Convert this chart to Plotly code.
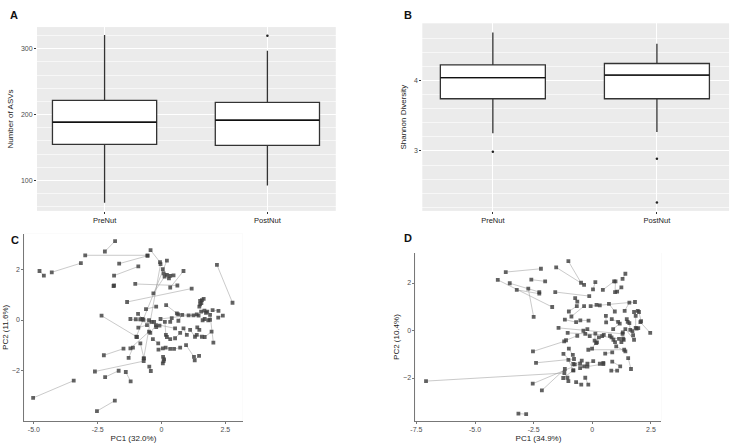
import plotly.graph_objects as go

# --- data -------------------------------------------------------------
CATS = ["PreNut", "PostNut"]

# panel A: number of ASVs (box statistics)
asv_q1 = [154.5, 153.0]
asv_med = [188.3, 191.4]
asv_q3 = [221.7, 218.6]
asv_lo = [66.0, 92.0]
asv_hi = [321.0, 297.0]
asv_out_x = ["PostNut"]
asv_out_y = [320.0]

# panel B: Shannon diversity
sh_q1 = [3.74, 3.74]
sh_med = [4.04, 4.075]
sh_q3 = [4.22, 4.24]
sh_lo = [3.25, 3.27]
sh_hi = [4.68, 4.52]
sh_out_x = ["PreNut", "PostNut", "PostNut"]
sh_out_y = [2.99, 2.89, 2.27]

# panel C: PCA, one pair of samples per subject (PreNut -> PostNut)
c_pre_x = [-1.82, -2.99, -3.16, -4.78, -0.43, -1.66, -1.86, -1.88, -1.03, -1.35,
           2.17, 0.86, 0.21, -0.04, 0.05, 0.08, 0.21, 0.12, 1.51, 1.65,
           1.48, -0.61, 0.18, 0.65, -0.92, -1.22, -1.01, -0.71, -0.39, -0.04,
           0.34, 0.66, 1.06, 1.55, 1.74, 1.61, 1.83, 2.00, 2.40, -0.91,
           -0.44, -0.21, 0.13, 0.21, 0.53, 0.86, 1.12, 1.38, 1.40, 1.69,
           2.03, -0.34, -0.12, 0.16, 0.49, 0.96, 1.30, 0.06, 0.05, -0.48,
           -2.61, -2.26, -0.83, -1.29, -2.21, -1.40, -3.44, -1.83, -2.35, -1.22]
c_pre_y = [3.11, 2.55, 2.24, 1.93, 2.75, 2.22, 1.75, 1.34, 1.42, 0.71,
           2.17, 1.93, 2.34, 2.20, 2.00, 1.84, 1.78, 1.71, 0.75, 0.83,
           0.53, 0.43, 0.59, 0.22, 0.24, 0.04, 0.03, 0.01, -0.07, 0.04,
           -0.07, -0.03, 0.18, 0.33, 0.28, -0.01, -0.01, 0.39, 0.17, -0.30,
           -0.51, -0.28, -0.07, -0.67, -0.72, -0.33, -0.39, -0.59, -0.29, -0.67,
           -0.89, -0.75, -1.17, -1.09, -1.14, -0.99, -1.59, -1.45, -1.71, -1.84,
           -2.03, -1.39, -0.92, -1.49, -2.25, -2.05, -2.39, -3.18, 0.17, -1.12]
c_post_x = [-2.22, -0.55, -4.30, -4.61, -0.06, -0.55, -0.91, -1.86, 0.62, 1.18,
            2.78, 0.34, -0.99, -0.70, 0.29, 0.47, 0.34, -0.32, 1.58, 1.56,
            1.51, -0.21, 0.60, 1.45, -0.75, 0.53, -0.83, -0.49, -0.29, 1.38,
            0.40, 0.81, 1.25, 1.68, 1.79, 1.69, 1.90, 2.23, 2.22, -0.57,
            -0.22, -0.08, 0.17, 0.34, 0.73, 0.99, 1.31, 1.58, 1.48, 1.96,
            1.90, -0.13, 0.05, 0.34, 0.73, 1.27, 1.47, 0.10, 0.08, -0.42,
            -0.70, -1.49, -0.69, -1.12, -1.68, -1.21, -5.03, -2.53, -0.96, -0.49]
c_post_y = [2.70, 2.55, 1.88, 1.75, 2.28, 2.53, 2.11, 1.36, 1.36, 1.24,
            0.68, 1.28, -0.66, -1.51, 1.64, 1.76, 1.74, 1.05, 0.78, 0.67,
            0.62, 0.53, 0.26, 0.17, 0.04, -0.33, 0.03, -0.01, -0.07, 0.22,
            0.07, 0.20, 0.18, 0.37, 0.33, 0.04, 0.01, 0.36, 0.09, -0.20,
            -0.20, -0.22, -0.59, -0.75, -0.51, -0.59, -0.66, -0.66, -0.39, -0.46,
            0.20, -0.92, -1.12, -1.14, -1.09, -1.45, -1.41, -1.55, -1.62, -2.01,
            -1.62, -1.13, -1.51, -1.09, -2.00, -2.42, -3.07, -3.59, -0.67, -0.46]

# panel D
d_pre_x = [-1.02, -1.54, -3.69, -4.03, -2.73, -3.52, -3.22, -2.60, -1.58, 0.13,
           0.45, 0.99, 1.29, 1.24, -0.73, -0.66, -0.89, -0.07, 0.18, 0.71,
           1.58, 1.78, 1.99, 1.85, 1.89, -1.17, -0.51, -0.38, -0.30, 0.13,
           0.16, -1.05, -1.44, 0.58, 0.83, 0.89, 1.47, 1.58, 1.71, 1.78,
           1.30, 1.34, 0.75, 0.90, 1.14, 0.28, -0.17, 2.47, 1.41, 0.85,
           0.85, 1.06, 1.65, 0.47, 0.04, -0.35, -0.45, -1.02, -1.06, -1.24,
           -0.69, -0.30, -1.00, -1.23, -1.12, -2.53, -2.40, -2.54, -2.15, -7.09,
           -3.15, -0.21]
d_pre_y = [2.92, 2.66, 2.46, 2.13, 1.76, 1.99, 1.71, 2.14, 1.62, 2.04,
           1.71, 2.07, 2.17, 1.82, 1.36, 1.03, 0.59, 1.03, 1.08, 1.12,
           1.17, 0.78, 0.78, 0.62, 0.08, 0.46, 0.43, -0.01, -0.14, -0.13,
           -0.53, -0.10, 0.11, 0.62, 0.48, 0.06, 0.48, 0.31, -0.03, -0.39,
           -0.08, -0.39, -0.22, -0.39, -0.35, -0.29, -0.81, -0.10, -0.88, -0.92,
           -1.31, -1.69, -1.62, -1.36, -1.29, -1.51, -1.27, -1.24, -1.99, -2.00,
           -2.17, -1.99, -0.76, -0.98, -0.41, -0.88, -1.36, -2.24, -2.52, -2.13,
           -3.50, -1.52]
d_post_x = [-0.48, -0.35, -2.19, -1.71, -2.50, -2.26, -2.26, -2.01, -0.13, 0.03,
            0.93, 0.97, 1.41, 1.06, -0.64, -1.00, -0.35, 1.82, 0.32, 0.96,
            1.38, 1.94, 2.08, 1.85, 1.96, -0.69, -0.16, -0.21, -0.11, 0.10,
            0.20, 0.49, 1.29, 0.59, 1.10, 1.17, 1.51, 1.62, 1.74, 1.41,
            1.31, 1.24, 0.82, 0.97, 0.42, -0.01, 1.36, 2.05, 1.02, 0.55,
            1.19, 0.81, 1.53, 0.32, -0.21, -0.52, -0.75, -0.81, -1.02, -0.81,
            -0.47, -0.17, -0.83, -0.81, -0.64, -1.20, -0.78, -0.52, -1.17, -1.19,
            -2.82, 0.47]
d_post_y = [2.01, 1.92, 2.60, 0.99, 0.57, 1.62, 1.55, 2.07, 1.45, 1.73,
            2.07, 1.62, 2.39, 1.64, 1.22, 0.80, 1.03, 1.20, 1.06, 0.80,
            0.83, 0.83, 0.39, 0.11, 0.10, 0.35, 0.42, 0.06, -0.24, -0.43,
            -0.50, -0.18, -0.14, 0.34, 0.36, 0.29, 0.36, 0.03, -0.20, 0.06,
            -0.34, -0.49, -0.29, -0.49, -0.24, -0.76, -0.81, 0.35, -0.67, -0.97,
            -1.51, -1.69, -1.16, -1.40, -1.40, -1.58, -1.43, -1.68, -2.13, -1.68,
            -2.28, -2.28, -1.03, -1.41, -0.22, -0.46, -1.20, -1.40, -1.62, -1.79,
            -3.52, -1.41]

FONT = "Liberation Sans, Arial, sans-serif"
TICK_COLOR = "#4D4D4D"
MARK = "rgba(60,60,60,0.8)"
SEG = "rgba(150,150,150,0.5)"


def pair_lines(x0, y0, x1, y1):
    xs, ys = [], []
    for a, b, c, d in zip(x0, y0, x1, y1):
        xs += [a, c, None]
        ys += [b, d, None]
    return xs, ys


fig = go.Figure()

# --- panels A and B: boxplots ----------------------------------------
box_sets = [
    ("x", "y", asv_q1, asv_med, asv_q3, asv_lo, asv_hi, asv_out_x, asv_out_y),
    ("x2", "y2", sh_q1, sh_med, sh_q3, sh_lo, sh_hi, sh_out_x, sh_out_y),
]
for xa, ya, q1, med, q3, lo, hi, ox, oy in box_sets:
    fig.add_trace(go.Box(
        x=CATS, q1=q1, median=med, q3=q3, lowerfence=lo, upperfence=hi,
        xaxis=xa, yaxis=ya, width=0.64, whiskerwidth=0,
        fillcolor="white", line=dict(color="#333333", width=1.3),
        boxpoints=False, showlegend=False))
    # thicker median bar, as in ggplot
    fig.add_trace(go.Box(
        x=CATS, q1=med, median=med, q3=med, lowerfence=med, upperfence=med,
        xaxis=xa, yaxis=ya, width=0.64, whiskerwidth=0,
        fillcolor="rgba(0,0,0,0)", line=dict(color="#111111", width=1.4),
        boxpoints=False, showlegend=False))
    fig.add_trace(go.Scatter(
        x=ox, y=oy, xaxis=xa, yaxis=ya, mode="markers",
        marker=dict(color="#222222", size=2.5), showlegend=False))

# --- panels C and D: PCA with paired samples --------------------------
pca_sets = [
    ("x3", "y3", c_pre_x, c_pre_y, c_post_x, c_post_y),
    ("x4", "y4", d_pre_x, d_pre_y, d_post_x, d_post_y),
]
for xa, ya, x0, y0, x1, y1 in pca_sets:
    lx, ly = pair_lines(x0, y0, x1, y1)
    fig.add_trace(go.Scatter(
        x=lx, y=ly, xaxis=xa, yaxis=ya, mode="lines",
        line=dict(color=SEG, width=1), showlegend=False, hoverinfo="skip"))
    fig.add_trace(go.Scatter(
        x=x0 + x1, y=y0 + y1, xaxis=xa, yaxis=ya, mode="markers",
        marker=dict(color=MARK, size=3.8, symbol="square"), showlegend=False))

tick_font = dict(family=FONT, size=7, color=TICK_COLOR)
title_font = dict(family=FONT, size=8, color="#222222")
cat_font = dict(family=FONT, size=7.5, color="#222222")

gg_x = dict(type="category", showgrid=True, gridcolor="white", gridwidth=1,
            ticks="outside", ticklen=2, tickcolor="#333333", tickfont=cat_font,
            showline=False, zeroline=False)
gg_y = dict(showgrid=True, gridcolor="white", gridwidth=1,
            minor=dict(showgrid=True, gridcolor="rgba(255,255,255,0.6)", gridwidth=0.5),
            ticks="outside", ticklen=2, tickcolor="#333333", tickfont=tick_font,
            showline=False, zeroline=False, title_font=title_font, title_standoff=6)
cl_ax = dict(showgrid=False, zeroline=False, showline=True, linecolor="#777777",
             linewidth=1, ticks="outside", ticklen=2, tickcolor="#777777",
             tickfont=tick_font, title_font=title_font, title_standoff=2)

fig.update_layout(
    width=732, height=444,
    margin=dict(l=0, r=0, t=0, b=0),
    paper_bgcolor="white",
    plot_bgcolor="#EBEBEB",
    font=dict(family=FONT),
    xaxis=dict(gg_x, domain=[0.044, 0.455], range=[-0.415, 1.42], anchor="y"),
    yaxis=dict(gg_y, domain=[0.525, 0.939], range=[53.5, 333], tickvals=[100, 200, 300],
               title_text="Number of ASVs", anchor="x"),
    xaxis2=dict(gg_x, domain=[0.574, 0.996], range=[-0.43, 1.44], anchor="y2"),
    yaxis2=dict(gg_y, domain=[0.525, 0.9475], range=[2.15, 4.81], tickvals=[3, 4],
                title_text="Shannon Diversity", anchor="x2"),
    xaxis3=dict(cl_ax, domain=[0.0264, 0.327], range=[-5.38, 3.18],
                tickvals=[-5, -2.5, 0, 2.5], ticktext=["-5.0", "-2.5", "0", "2.5"],
                title_text="PC1 (32.0%)", anchor="y3"),
    yaxis3=dict(cl_ax, domain=[0.0518, 0.4736], range=[-3.98, 3.4],
                tickvals=[-2, 0, 2], title_text="PC2 (11.6%)", anchor="x3"),
    xaxis4=dict(cl_ax, domain=[0.5646, 0.903], range=[-7.54, 2.95],
                tickvals=[-7.5, -5, -2.5, 0, 2.5],
                ticktext=["-7.5", "-5.0", "-2.5", "0", "2.5"],
                title_text="PC1 (34.9%)", anchor="y4"),
    yaxis4=dict(cl_ax, domain=[0.0518, 0.430], range=[-3.81, 3.26],
                tickvals=[-2, 0, 2], title_text="PC2 (10.4%)", anchor="x4"),
)

# white background for the PCA panels
for xr, yr in [("x3", "y3"), ("x4", "y4")]:
    fig.add_shape(type="rect", xref=f"{xr} domain", yref=f"{yr} domain",
                  x0=0, x1=1, y0=0, y1=1, fillcolor="white", line_width=0, layer="below")

for txt, xp, yp in [("A", 0.004, 0.985), ("B", 0.546, 0.985),
                    ("C", 0.006, 0.478), ("D", 0.546, 0.482)]:
    fig.add_annotation(text=f"<b>{txt}</b>", xref="paper", yref="paper", x=xp, y=yp,
                       xanchor="left", yanchor="top", showarrow=False,
                       font=dict(family=FONT, size=11, color="#111111"))

# drop the default page margin so the 732x444 figure fills the window
fig.write_html("out.html", config={"displayModeBar": False},
               post_script="document.body.style.margin='0';")
